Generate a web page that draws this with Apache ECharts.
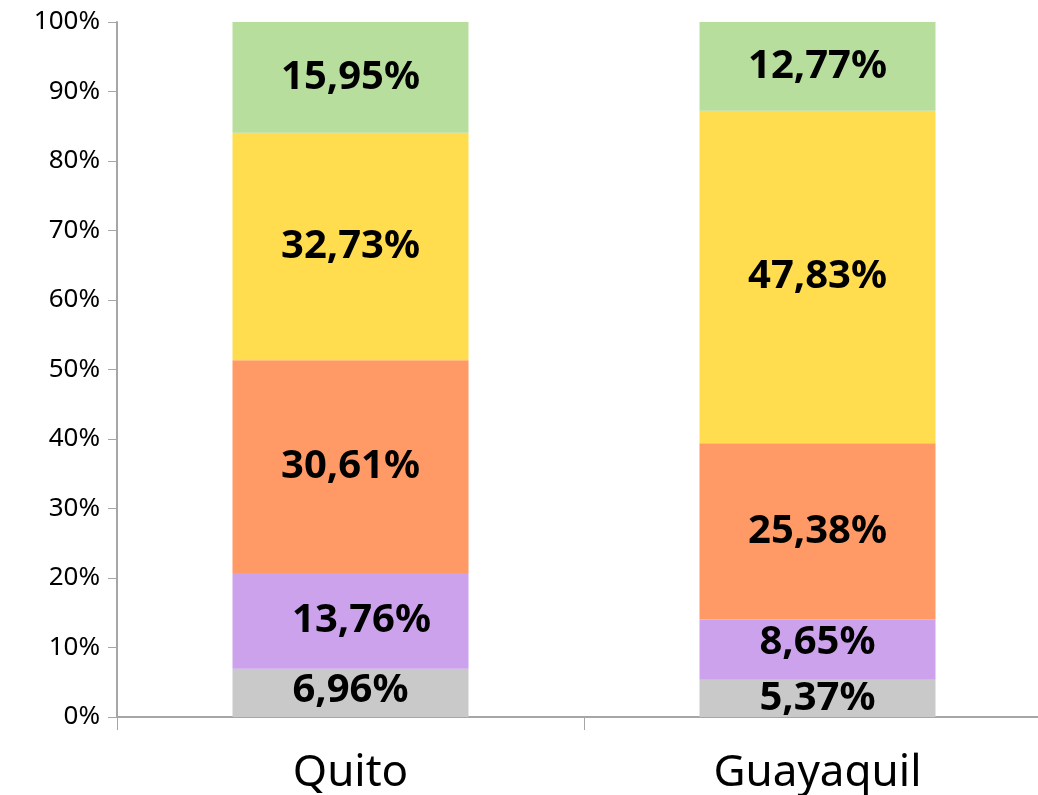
<!DOCTYPE html>
<html><head><meta charset="utf-8">
<script src="https://cdn.jsdelivr.net/npm/echarts@6/dist/echarts.min.js"></script>
<style>html,body{margin:0;padding:0;background:#fff;overflow:hidden}#c{width:1051px;height:795px}</style>
</head><body><div id="c"></div>
<script>
const categories = ["Quito", "Guayaquil"];
const seriesNames = ["s1", "s2", "s3", "s4", "s5"];
const s1 = [6.96, 5.37];
const s2 = [13.76, 8.65];
const s3 = [30.61, 25.38];
const s4 = [32.73, 47.83];
const s5 = [15.95, 12.77];
const yTicks = [0, 10, 20, 30, 40, 50, 60, 70, 80, 90, 100];

const colors = ["#C9C9C9", "#CDA2EC", "#FF9966", "#FFDD4F", "#B7DE9C"];
const values = [s1, s2, s3, s4, s5];
const labelOffsets = [[[0,-2],[0,0]], [[11,0],[0,-7]], [[0,0],[0,0]], [[0,0],[0,0]], [[0,0],[0,0]]];

const chart = echarts.init(document.getElementById('c'));
chart.setOption({
  animation: false,
  grid: {left: 117, right: 0, top: 22, bottom: 77},
  xAxis: {
    type: 'category', data: categories,
    axisLine: {lineStyle: {color: '#A6A6A6', width: 2}},
    axisTick: {show: true, length: 13, lineStyle: {color: '#A6A6A6', width: 1}},
    axisLabel: {color: '#000', fontFamily: 'Noto Sans', fontSize: 44, margin: 34}
  },
  yAxis: {
    type: 'value', min: 0, max: 100, interval: 10,
    axisLine: {show: true, lineStyle: {color: '#A6A6A6', width: 2}},
    axisTick: {show: true, length: 9, lineStyle: {color: '#A6A6A6'}},
    splitLine: {show: false},
    axisLabel: {color: '#000', fontFamily: 'Noto Sans', fontSize: 26, margin: 17,
      formatter: v => yTicks.includes(v) ? v + '%' : ''}
  },
  series: values.map((arr, i) => ({
    name: seriesNames[i], type: 'bar', stack: 'total', barWidth: 236,
    itemStyle: {color: colors[i]},
    data: arr.map((v, j) => ({
      value: v,
      label: {offset: labelOffsets[i][j]}
    })),
    label: {
      show: true, position: 'inside', color: '#000',
      fontFamily: 'Noto Sans', fontWeight: 'bold', fontSize: 40,
      formatter: p => p.value.toFixed(2).replace('.', ',') + '%'
    }
  }))
});
</script></body></html>
